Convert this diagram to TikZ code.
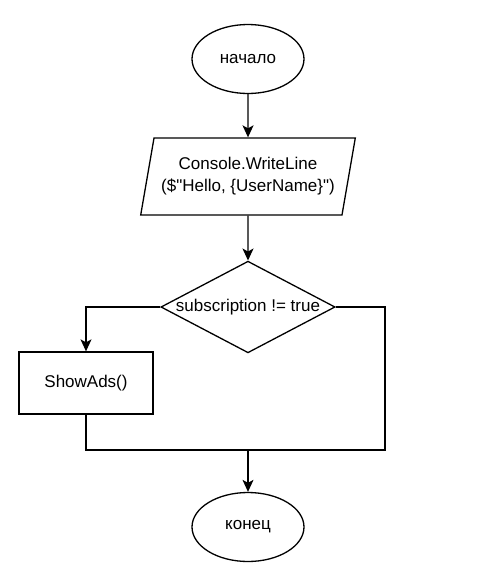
\documentclass[tikz,border=0pt]{standalone}
\usepackage{fontspec}
\setmainfont{Liberation Sans}[Ligatures=TeXOff]
\usetikzlibrary{shapes.geometric,arrows.meta}
\tikzset{
  terminal/.style={draw,ellipse,line width=1.3pt,minimum width=112pt,minimum height=69pt,inner sep=0pt},
  io/.style={draw,trapezium,trapezium left angle=72,trapezium right angle=108,
    trapezium stretches=true,minimum width=215pt,minimum height=77pt,inner sep=0pt,
    line width=1.3pt,align=center},
  decision/.style={draw,diamond,aspect=1.9,minimum width=171pt,minimum height=90pt,
    inner sep=0pt,line width=1.3pt},
  process/.style={draw,rectangle,minimum width=134pt,minimum height=62pt,line width=1.3pt},
  flow/.style={-{Stealth[length=12pt,width=11pt,inset=3pt]},line width=1.3pt}
}
\begin{document}
\begin{tikzpicture}[x=1pt,y=1pt,font=\fontsize{17}{22}\selectfont]
      \useasboundingbox (0,0) rectangle (480,-579);
      \node[terminal] (start) at (248,-59) {начало};
      \node[io] (print) at (248,-176.5) {Console.WriteLine\\(\$"Hello, \{UserName\}")};
      \node[decision] (check) at (248,-307) {subscription != true};
      \node[process] (ads) at (86,-383) {ShowAds()};
      \node[terminal] (stop) at (248,-527) {конец};
      \coordinate (join) at (248,-450);
      \coordinate (turn) at (385,-450);
      \begin{scope}[line width=1.3pt]
        \draw[flow] (start) to (print);
        \draw[flow] (print) to (check);
        \draw[flow] (check.west) -| (ads.north);
        \draw (ads.south) |- (join);
        \draw (check.east) -| (turn) -- (join);
        \draw[flow] (join) to (stop);
      \end{scope}
    \end{tikzpicture}
\end{document}
